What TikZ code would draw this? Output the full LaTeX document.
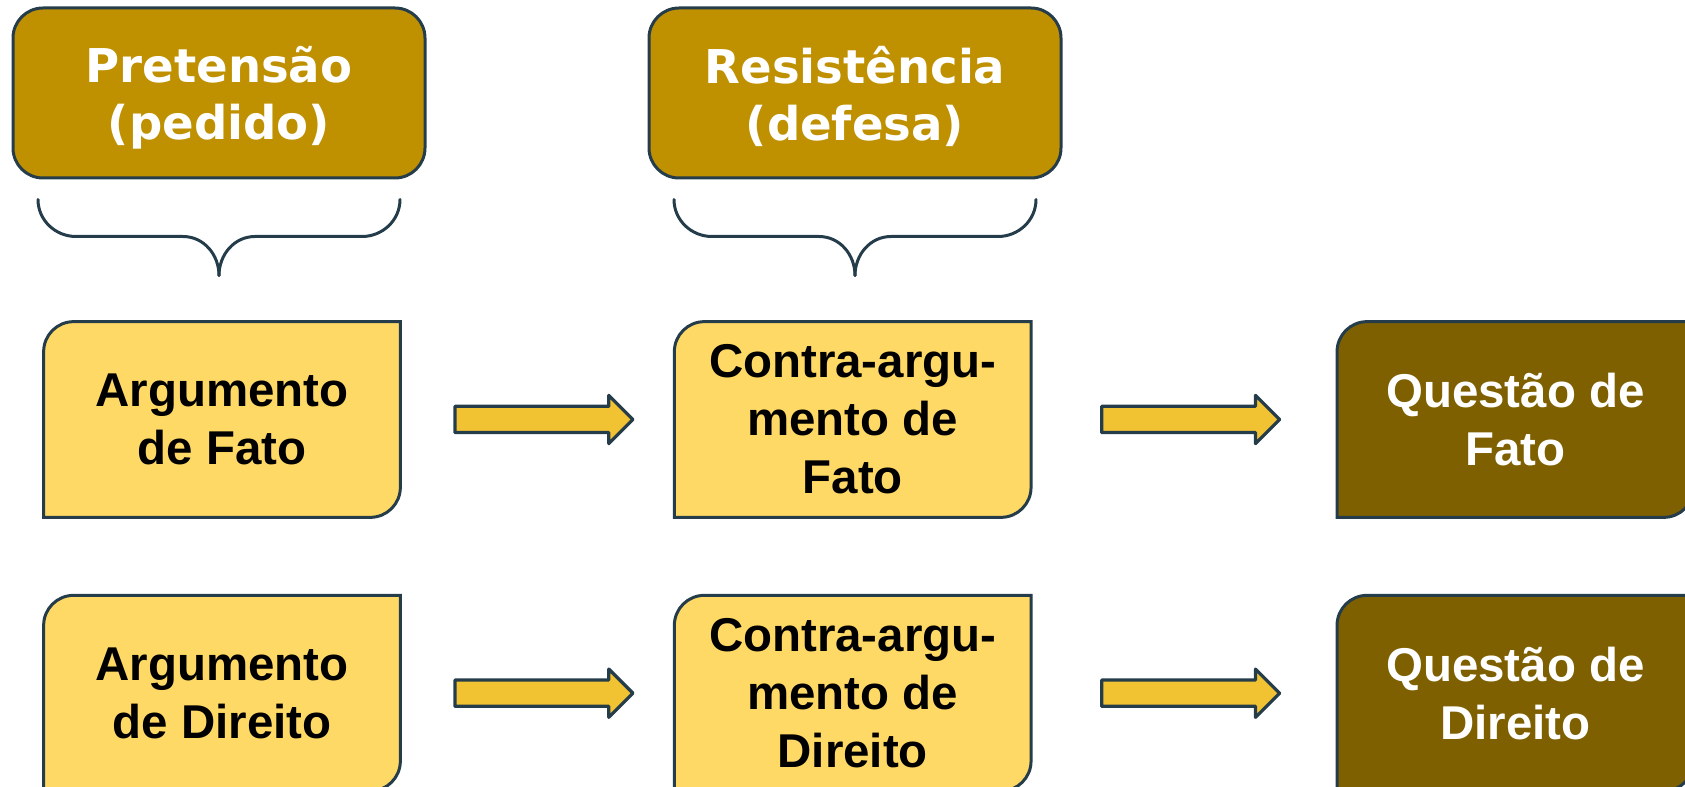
\documentclass[tikz,border=0pt]{standalone}
\usepackage{fontspec}
\setmainfont{Liberation Sans}
\newfontfamily\headfont{DejaVu Sans}
\usetikzlibrary{positioning,calc,backgrounds,shapes.arrows}
\definecolor{edge}{HTML}{253D4A}
\definecolor{gold}{HTML}{BF9000}
\definecolor{paleyellow}{HTML}{FFD966}
\definecolor{darkgold}{HTML}{7F6000}
\definecolor{arrowfill}{HTML}{F1C232}
\tikzset{
  headbox/.style={
    draw=edge,
    fill=gold,
    line width=0.06cm,
    rounded corners=0.6cm,
    align=center,
    minimum width=8.24cm,
    minimum height=3.4cm,
    inner sep=0pt,
    text depth=0pt,
    text=white,
    font=\headfont\bfseries\fontsize{26.5}{32.4}\selectfont
  },
  argbox/.style={
    align=center,
    minimum width=7.12cm,
    minimum height=3.9cm,
    inner sep=0pt,
    font=\bfseries\fontsize{27}{33}\selectfont
  },
  qbox/.style={
    argbox,
    text=white
  },
  edgeline/.style={draw=edge, line width=0.06cm},
  bracel/.style={draw=edge, line width=0.06cm, line cap=round},
  fatarrow/.style={
    single arrow,
    draw=edge,
    fill=arrowfill,
    line width=0.065cm,
    line join=round,
    minimum height=3.56cm,
    minimum width=0.9cm,
    single arrow head extend=0.22cm,
    inner sep=0.23cm
  }
}
\begin{document}
\begin{tikzpicture}
\useasboundingbox (0,0) rectangle (33.7,-15.74);

\node[headbox] (pret) at (4.38,-1.86) {Pretensão\\(pedido)};
\node[headbox, right=4.42cm of pret] (resist) {Resistência\\(defesa)};

\node[argbox] (argf) at (4.44,-8.39) {Argumento\\de Fato};
\node[argbox, right=5.48cm of argf] (ctrf) {Contra-argu-\\mento de\\Fato};
\node[qbox, right=6.12cm of ctrf] (qf) {Questão de\\Fato};

\node[argbox, below=1.56cm of argf] (argd) {Argumento\\de Direito};
\node[argbox, below=1.56cm of ctrf] (ctrd) {Contra-argu-\\mento de\\Direito};
\node[qbox, below=1.56cm of qf] (qd) {Questão de\\Direito};

% boxes with two rounded corners
\begin{scope}[on background layer]
\clip (0,0) rectangle (33.7,-15.74);
\foreach \n/\c in {argf/paleyellow, ctrf/paleyellow, argd/paleyellow, ctrd/paleyellow, qf/darkgold, qd/darkgold}
  \draw[edgeline, fill=\c] ([yshift=-6mm]\n.north west) arc[start angle=180, end angle=90, radius=6mm]
    -- (\n.north east) -- ([yshift=6mm]\n.south east) arc[start angle=0, end angle=-90, radius=6mm]
    -- (\n.south west) -- cycle;
\end{scope}

% braces under the headers
\foreach \h in {pret, resist} {
  \draw[bracel] ([yshift=-1.92cm]\h.south) to[out=90,in=0] ++(-0.72,0.78) -- ++(-2.14,0) to[out=180,in=-90] ++(-0.76,0.74);
  \draw[bracel] ([yshift=-1.92cm]\h.south) to[out=90,in=180] ++(0.72,0.78) -- ++(2.14,0) to[out=0,in=-90] ++(0.76,0.74);
}

\node[fatarrow] (a1) at ($(argf.east)!0.5!(ctrf.west)$) {};
\node[fatarrow] (a2) at ($(ctrf.east)!0.5!(qf.west)$) {};
\node[fatarrow] (a3) at ($(argd.east)!0.5!(ctrd.west)$) {};
\node[fatarrow] (a4) at ($(ctrd.east)!0.5!(qd.west)$) {};

\end{tikzpicture}
\end{document}
